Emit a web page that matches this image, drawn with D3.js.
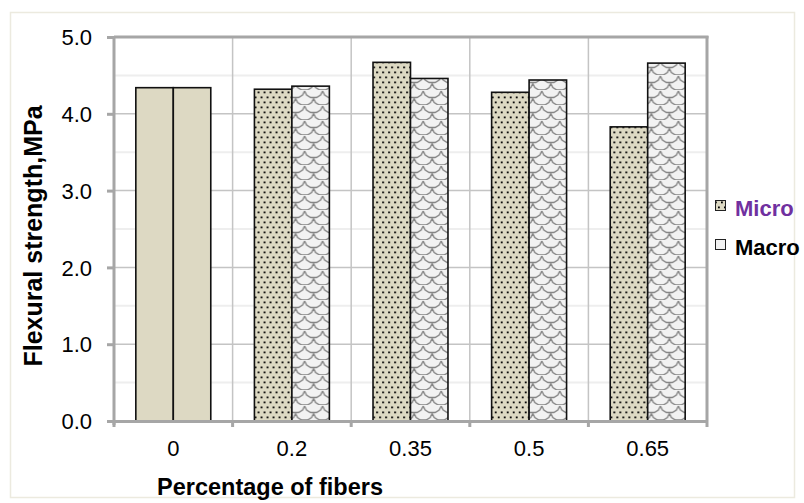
<!DOCTYPE html>
<html>
<head>
<meta charset="utf-8">
<script src="https://cdn.jsdelivr.net/npm/d3@7"></script>
<style>
  html, body { margin: 0; padding: 0; background: #fff; }
  svg { display: block; font-family: "Liberation Sans", Arial, sans-serif; }
</style>
</head>
<body>
<svg id="chart" width="804" height="503"></svg>
<script>
// Flexural strength by fibre percentage
const categories = ["0", "0.2", "0.35", "0.5", "0.65"];
const seriesNames = ["Micro", "Macro"];
const microValues = [4.34, 4.32, 4.67, 4.28, 3.83];
const macroValues = [4.34, 4.36, 4.46, 4.44, 4.66];
const yTicks = [0, 1, 2, 3, 4, 5];
const yMinor = [0.5, 1.5, 2.5, 3.5, 4.5];

const svg = d3.select("#chart");
const plot = { left: 114, right: 707, top: 37, bottom: 421 };
const FONT = "'Liberation Sans', Arial, sans-serif";

// outer chart frame
svg.append("rect")
  .attr("x", 10.5).attr("y", 12.5)
  .attr("width", 784).attr("height", 485)
  .attr("fill", "#fff").attr("stroke", "#ECEADF").attr("stroke-width", 1.5);

// fill patterns
const defs = svg.append("defs");
const dots = defs.append("pattern")
  .attr("id", "dots").attr("patternUnits", "userSpaceOnUse")
  .attr("width", 6).attr("height", 10);
dots.append("rect").attr("width", 6).attr("height", 10).attr("fill", "#DDD9C3");
dots.append("rect").attr("x", 1).attr("y", 1.5).attr("width", 1.8).attr("height", 1.8).attr("fill", "#000");
dots.append("rect").attr("x", 4).attr("y", 6.5).attr("width", 1.8).attr("height", 1.8).attr("fill", "#000");

const scales = defs.append("pattern")
  .attr("id", "scales").attr("patternUnits", "userSpaceOnUse")
  .attr("width", 18).attr("height", 15);
scales.append("rect").attr("width", 18).attr("height", 15).attr("fill", "#F2F2F2");
scales.append("path")
  .attr("d", "M0,1 L2,5 L6,7.5 L12,7.5 L16,5 L18,1 M-9,8.5 L-7,12.5 L-3,15 L3,15 L7,12.5 L9,8.5 M9,8.5 L11,12.5 L15,15 L21,15 L25,12.5 L27,8.5")
  .attr("fill", "none").attr("stroke", "#858585").attr("stroke-width", 1.4);

const x0 = d3.scaleBand().domain(categories).range([plot.left, plot.right]).padding(0);
const bw = x0.bandwidth();
const x1 = d3.scaleBand().domain(seriesNames).range([bw * 0.184, bw * 0.816]).padding(0);
const y = d3.scaleLinear().domain([0, 5]).range([plot.bottom, plot.top]);

// gridlines
const g = svg.append("g");
g.selectAll("line.minor").data(yMinor).join("line")
  .attr("x1", plot.left).attr("x2", plot.right)
  .attr("y1", d => y(d)).attr("y2", d => y(d))
  .attr("stroke", "#EEEEEE").attr("stroke-width", 2);
g.selectAll("line.major").data(yTicks.slice(1)).join("line")
  .attr("x1", plot.left).attr("x2", plot.right)
  .attr("y1", d => y(d)).attr("y2", d => y(d))
  .attr("stroke", "#C4C4C4").attr("stroke-width", 1.5);
g.selectAll("line.vert").data(categories.slice(1)).join("line")
  .attr("x1", d => x0(d)).attr("x2", d => x0(d))
  .attr("y1", plot.top).attr("y2", plot.bottom)
  .attr("stroke", "#C4C4C4").attr("stroke-width", 1.5);
// right and top border of the plot area
g.append("line")
  .attr("x1", plot.right).attr("x2", plot.right)
  .attr("y1", plot.top - 1).attr("y2", plot.bottom)
  .attr("stroke", "#A6A6A6").attr("stroke-width", 3);
g.append("line")
  .attr("x1", plot.left).attr("x2", plot.right + 1.5)
  .attr("y1", plot.top).attr("y2", plot.top)
  .attr("stroke", "#A6A6A6").attr("stroke-width", 3);

// bars
const rows = categories.map((c, i) => ({ cat: c, values: [
  { name: "Micro", v: microValues[i], fill: i === 0 ? "#DDD9C3" : "url(#dots)" },
  { name: "Macro", v: macroValues[i], fill: i === 0 ? "#DDD9C3" : "url(#scales)" }
]}));
svg.append("g").selectAll("g").data(rows).join("g")
  .attr("transform", d => `translate(${x0(d.cat)},0)`)
  .selectAll("rect").data(d => d.values).join("rect")
  .attr("x", d => x1(d.name))
  .attr("y", d => y(d.v))
  .attr("width", x1.bandwidth())
  .attr("height", d => y(0) - y(d.v))
  .attr("fill", d => d.fill)
  .attr("stroke", "#111").attr("stroke-width", 1.6);

// axes
const yAxis = svg.append("g")
  .attr("transform", `translate(${plot.left},0)`)
  .call(d3.axisLeft(y).tickValues(yTicks).tickFormat(d3.format(".1f")).tickSize(7).tickPadding(15));
const xAxis = svg.append("g")
  .attr("transform", `translate(0,${plot.bottom})`)
  .call(d3.axisBottom(x0).tickValues([]).tickSize(0));
[yAxis, xAxis].forEach(a => {
  a.select(".domain").attr("stroke", "#A6A6A6").attr("stroke-width", 3);
  a.selectAll(".tick line").attr("stroke", "#A6A6A6").attr("stroke-width", 3);
  a.selectAll("text").attr("font-size", 22).attr("fill", "#000").attr("font-family", FONT);
});
yAxis.select(".domain").attr("d", `M0,${plot.top}V${plot.bottom + 4}`);
yAxis.selectAll(".tick text").attr("dy", "0.35em");

// category boundary ticks below the x axis
svg.append("g").selectAll("line").data(d3.range(categories.length + 1)).join("line")
  .attr("x1", i => plot.left + i * bw).attr("x2", i => plot.left + i * bw)
  .attr("y1", plot.bottom).attr("y2", plot.bottom + 6)
  .attr("stroke", "#A6A6A6").attr("stroke-width", 3);
svg.append("g").selectAll("text").data(categories).join("text")
  .attr("x", d => x0(d) + bw / 2).attr("y", 456)
  .attr("text-anchor", "middle").attr("font-size", 22).attr("font-family", FONT).text(d => d);

// axis titles
svg.append("text")
  .attr("x", 270).attr("y", 495).attr("text-anchor", "middle")
  .attr("font-size", 23.5).attr("font-weight", "bold").attr("font-family", FONT)
  .text("Percentage of fibers");
svg.append("text")
  .attr("transform", `translate(42,236) rotate(-90)`)
  .attr("text-anchor", "middle")
  .attr("font-size", 25).attr("font-weight", "bold").attr("font-family", FONT)
  .text("Flexural strength,MPa");

// legend
const legend = svg.append("g");
const legendItems = [
  { name: "Micro", fill: "url(#dots)", color: "#7030A0", yy: 216 },
  { name: "Macro", fill: "#F2F2F2", color: "#000", yy: 255 }
];
legend.selectAll("rect").data(legendItems).join("rect")
  .attr("x", 715.5).attr("y", d => d.yy - 15.5).attr("width", 10).attr("height", 10)
  .attr("fill", d => d.fill).attr("stroke", "#222").attr("stroke-width", 1);
legend.selectAll("text").data(legendItems).join("text")
  .attr("x", 735).attr("y", d => d.yy)
  .attr("font-size", 22).attr("font-weight", "bold").attr("font-family", FONT)
  .attr("fill", d => d.color).text(d => d.name);
</script>
</body>
</html>
